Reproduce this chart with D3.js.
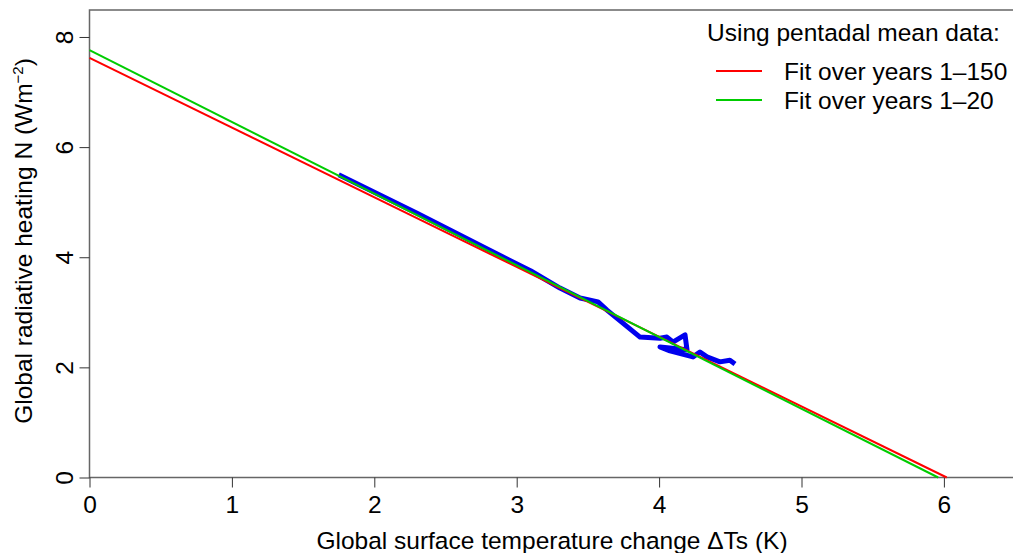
<!DOCTYPE html>
<html>
<head>
<meta charset="utf-8">
<script src="https://cdn.jsdelivr.net/npm/d3@7"></script>
<style>
  body { margin: 0; background: #fff; }
  svg { display: block; }
</style>
</head>
<body>
<div id="chart"></div>
<script>
// pentadal mean trajectory (Ts, N)
var blueT = [1.75, 2.30, 2.80, 3.10, 3.304, 3.445, 3.571, 3.634, 3.866, 4.006, 4.055, 4.097, 4.182, 4.196, 4.006, 4.076, 4.238, 4.287, 4.336, 4.427, 4.497, 4.533];
var blueN = [5.50, 4.80, 4.14, 3.75, 3.44, 3.26, 3.19, 3.04, 2.55, 2.53, 2.55, 2.46, 2.59, 2.32, 2.37, 2.30, 2.19, 2.28, 2.19, 2.10, 2.13, 2.06];

// regression fits: endpoints (intercept, x-crossing)
var fitNames = ["Fit over years 1\u2013150", "Fit over years 1\u201320"];
var fitColors = ["#ff0000", "#00cc00"];
var fitT = [[0, 6.02], [0, 5.96]];
var fitN = [[7.62, 0], [7.76, 0]];

var xTicks = [0, 1, 2, 3, 4, 5, 6];
var yTicks = [0, 2, 4, 6, 8];

var W = 1013, H = 553;
var mLeft = 89.5, mTop = 10, mBottom = 477.5;
var fs = 24.5;
var font = "'Liberation Sans', Arial, sans-serif";

var svg = d3.select("#chart").append("svg")
  .attr("width", W)
  .attr("height", H)
  .style("font-family", font);

var x = d3.scaleLinear().domain([0, 6.5]).range([mLeft, mLeft + 6.5 * 142.4]);
var y = d3.scaleLinear().domain([0, 8.49]).range([mBottom, mTop]);

// frame
svg.append("rect")
  .attr("x", mLeft).attr("y", mTop)
  .attr("width", 1100).attr("height", mBottom - mTop)
  .attr("fill", "none").attr("stroke", "#666").attr("stroke-width", 1.5);

// axes
var xAxis = svg.append("g")
  .attr("transform", "translate(0," + mBottom + ")")
  .call(d3.axisBottom(x).tickValues(xTicks).tickFormat(d3.format("d"))
    .tickSize(10).tickSizeOuter(0).tickPadding(8));
xAxis.select(".domain").remove();
xAxis.selectAll("line").attr("stroke", "#333");
xAxis.selectAll("text").attr("font-size", fs).attr("fill", "#000").attr("font-family", font);

var yAxis = svg.append("g")
  .attr("transform", "translate(" + mLeft + ",0)")
  .call(d3.axisLeft(y).tickValues(yTicks).tickSize(10).tickSizeOuter(0));
yAxis.select(".domain").remove();
yAxis.selectAll("line").attr("stroke", "#333");
yAxis.selectAll("text").remove();
yAxis.selectAll(".tick").append("text")
  .attr("transform", "translate(-17,0) rotate(-90)")
  .attr("text-anchor", "middle")
  .attr("fill", "#000")
  .attr("font-size", fs)
  .attr("font-family", font)
  .text(function(d) { return d; });

// axis titles
svg.append("text")
  .attr("x", 552).attr("y", 549)
  .attr("text-anchor", "middle").attr("font-size", fs)
  .text("Global surface temperature change \u0394Ts (K)");

var yt = svg.append("text")
  .attr("transform", "translate(32,241) rotate(-90)")
  .attr("text-anchor", "middle").attr("font-size", fs);
yt.append("tspan").text("Global radiative heating N (Wm");
yt.append("tspan").attr("font-size", 15).attr("dy", -9).text("\u22122");
yt.append("tspan").attr("dy", 9).text(")");

// data line
var line = d3.line().x(function(d) { return x(d[0]); }).y(function(d) { return y(d[1]); });
svg.append("path")
  .datum(d3.zip(blueT, blueN))
  .attr("d", line)
  .attr("fill", "none").attr("stroke", "#0000ee").attr("stroke-width", 5)
  .attr("stroke-linejoin", "round");

fitT.forEach(function(t, i) {
  svg.append("path")
    .datum(d3.zip(t, fitN[i]))
    .attr("d", line)
    .attr("fill", "none").attr("stroke", fitColors[i]).attr("stroke-width", 2);
});

// legend
svg.append("text").attr("x", 707).attr("y", 41).attr("font-size", fs)
  .text("Using pentadal mean data:");
fitNames.forEach(function(n, i) {
  var ly = 71 + i * 29;
  svg.append("line").attr("x1", 716).attr("x2", 762).attr("y1", ly).attr("y2", ly)
    .attr("stroke", fitColors[i]).attr("stroke-width", 2);
  svg.append("text").attr("x", 784).attr("y", ly + 8.5).attr("font-size", fs).text(n);
});
</script>
</body>
</html>
